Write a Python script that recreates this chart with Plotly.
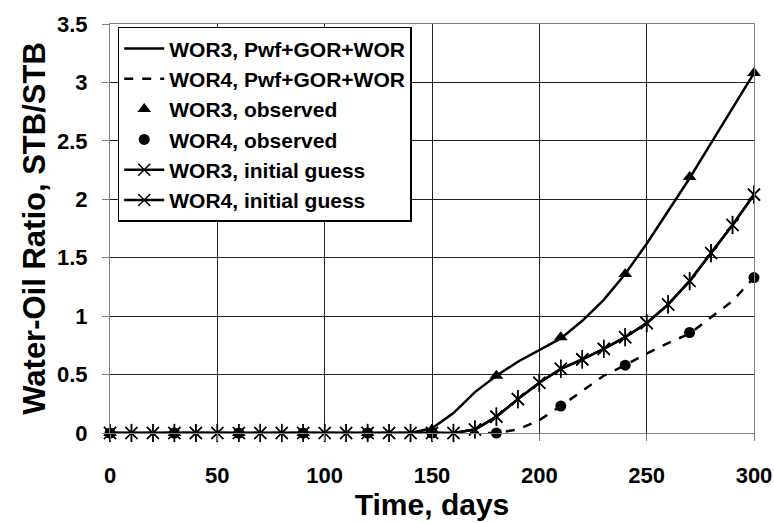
import plotly.graph_objects as go

# ---- data ----
time_sim = [0, 10, 20, 30, 40, 50, 60, 70, 80, 90, 100, 110, 120, 130, 140, 150,
            160, 170, 180, 190, 200, 210, 220, 230, 240, 250, 260, 270, 280, 290, 300]
wor3_fit = [0, 0, 0, 0, 0, 0, 0, 0, 0, 0, 0, 0, 0, 0, 0, 0.04,
            0.17, 0.35, 0.49, 0.61, 0.71, 0.81, 0.96, 1.14, 1.36, 1.62, 1.90, 2.18, 2.48, 2.78, 3.08]
wor4_fit = [0, 0, 0, 0, 0, 0, 0, 0, 0, 0, 0, 0, 0, 0, 0, 0,
            0, 0, 0.0, 0.03, 0.11, 0.23, 0.36, 0.49, 0.58, 0.68, 0.77, 0.85, 0.99, 1.13, 1.33]
wor3_init = [0, 0, 0, 0, 0, 0, 0, 0, 0, 0, 0, 0, 0, 0, 0, 0,
             0, 0.03, 0.14, 0.29, 0.43, 0.55, 0.63, 0.72, 0.82, 0.94, 1.10, 1.30, 1.54, 1.78, 2.04]
wor4_init = list(wor3_init)

time_obs = [0, 30, 60, 90, 120, 150, 180, 210, 240, 270, 300]
wor3_obs = [0, 0, 0, 0, 0, 0.03, 0.49, 0.82, 1.36, 2.19, 3.08]
wor4_obs = [0, 0, 0, 0, 0, 0, 0.0, 0.23, 0.58, 0.86, 1.33]

x_ticks = [0, 50, 100, 150, 200, 250, 300]
y_ticks = [0, 0.5, 1, 1.5, 2, 2.5, 3, 3.5]
y_tick_text = ["0", "0.5", "1", "1.5", "2", "2.5", "3", "3.5"]

FONT = "Liberation Sans, Arial, sans-serif"
BLACK = "#000000"

fig = go.Figure()

fig.add_trace(go.Scatter(x=time_sim, y=wor3_fit, mode="lines", name="WOR3, Pwf+GOR+WOR",
                         line=dict(color=BLACK, width=2.5), cliponaxis=False))
fig.add_trace(go.Scatter(x=time_sim, y=wor4_fit, mode="lines", name="WOR4, Pwf+GOR+WOR",
                         line=dict(color=BLACK, width=2.5, dash="dash"), cliponaxis=False))
fig.add_trace(go.Scatter(x=time_obs, y=wor3_obs, mode="markers", name="WOR3, observed",
                         marker=dict(symbol="triangle-up", size=12, color=BLACK), cliponaxis=False))
fig.add_trace(go.Scatter(x=time_obs, y=wor4_obs, mode="markers", name="WOR4, observed",
                         marker=dict(symbol="circle", size=11, color=BLACK), cliponaxis=False))

for nm, vals, grp in [("WOR3, initial guess", wor3_init, "g3"), ("WOR4, initial guess", wor4_init, "g4")]:
    fig.add_trace(go.Scatter(x=time_sim, y=vals, mode="lines+markers", name=nm, legendgroup=grp,
                             line=dict(color=BLACK, width=2.5),
                             marker=dict(symbol="x-thin-open", size=12, color=BLACK,
                                         line=dict(width=1.5, color=BLACK)),
                             cliponaxis=False))
    fig.add_trace(go.Scatter(x=time_sim, y=vals, mode="markers", showlegend=False, legendgroup=grp,
                             marker=dict(symbol="line-ns-open", size=13, color=BLACK,
                                         line=dict(width=1.5, color=BLACK)),
                             cliponaxis=False, hoverinfo="skip"))

fig.update_layout(
    width=774, height=523,
    margin=dict(l=110, r=20, t=24, b=90),
    paper_bgcolor="white", plot_bgcolor="white",
    font=dict(family=FONT, color=BLACK),
    showlegend=True,
    legend=dict(x=0.012, y=0.993, xanchor="left", yanchor="top",
                bgcolor="white", bordercolor=BLACK, borderwidth=1.5,
                font=dict(family=FONT, size=21, color=BLACK, weight="bold"),
                tracegroupgap=0, itemwidth=40),
)
fig.update_xaxes(range=[0, 300], tickvals=x_ticks, ticks="outside", ticklen=7, tickcolor="#808080",
                 ticklabelstandoff=16, automargin=False,
                 showgrid=True, gridcolor="#202020", gridwidth=1,
                 showline=True, linecolor="#808080", linewidth=1, mirror=True, zeroline=False,
                 tickfont=dict(family=FONT, size=22, color=BLACK, weight="bold"),
                 title=dict(text="Time, days", font=dict(family=FONT, size=30, color=BLACK, weight="bold"),
                            standoff=2))
fig.update_yaxes(range=[0, 3.5], tickvals=y_ticks, ticktext=y_tick_text, ticks="outside", ticklen=7,
                 tickcolor="#808080", ticklabelstandoff=10, automargin=False,
                 showgrid=True, gridcolor="#202020", gridwidth=1,
                 showline=True, linecolor="#808080", linewidth=1, mirror=True, zeroline=False,
                 tickfont=dict(family=FONT, size=22, color=BLACK, weight="bold"),
                 title=dict(text="Water-Oil Ratio, STB/STB",
                            font=dict(family=FONT, size=31, color=BLACK, weight="bold"), standoff=2))

fig.write_html("out.html")
